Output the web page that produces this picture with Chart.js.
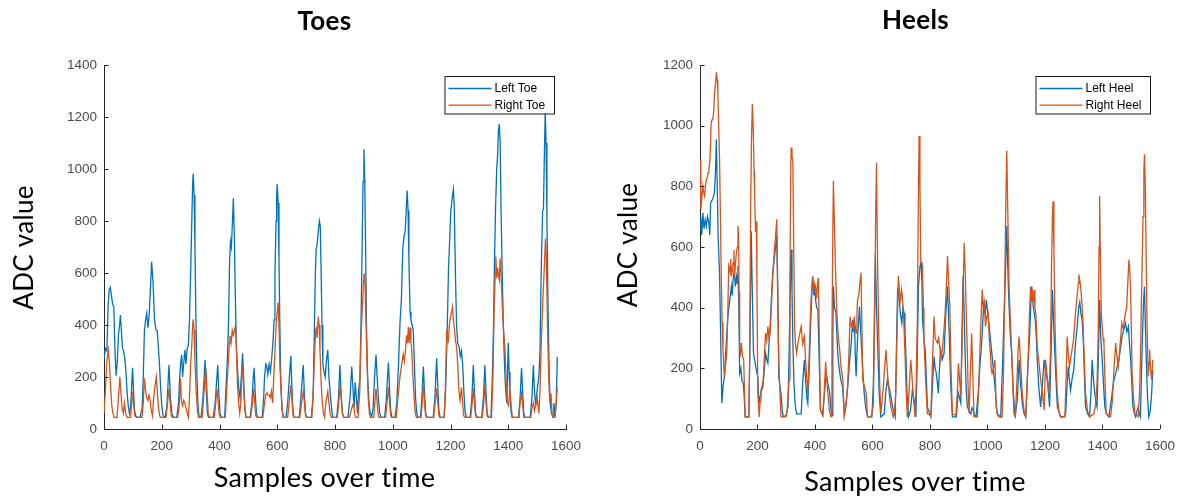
<!DOCTYPE html>
<html><head><meta charset="utf-8">
<script src="https://cdn.jsdelivr.net/npm/chart.js@4.4.0/dist/chart.umd.min.js"></script>
<style>
html,body{margin:0;padding:0;background:#fff;}
#wrap{position:relative;width:1184px;height:498px;overflow:hidden;background:#fff;}
canvas{position:absolute;top:0;}
#c1{left:0px}#c2{left:592px}
</style></head><body>
<div id="wrap"><canvas id="c1" width="592" height="498"></canvas><canvas id="c2" width="592" height="498"></canvas></div>
<script>
// ---- tick labels ----
const sampleTicks = [0,200,400,600,800,1000,1200,1400,1600];
const toeTicks = [0,200,400,600,800,1000,1200,1400];
const heelTicks = [0,200,400,600,800,1000,1200];

// ---- series: [sample index, ADC value] ----
const leftToe = [[0,270],[5,310],[10,300],[14,470],[18,537],[22,545],[26,510],[30,480],[34,470],[38,300],[42,205],[46,260],[50,360],[54,400],[57,438],[60,380],[64,310],[68,300],[72,270],[76,220],[80,140],[84,90],[88,60],[92,80],[96,170],[99,235],[102,150],[106,70],[110,50],[115,45],[125,45],[132,80],[136,200],[140,380],[144,420],[148,445],[152,390],[156,430],[160,520],[165,643],[170,560],[175,420],[180,381],[184,380],[188,320],[192,250],[196,160],[200,90],[205,50],[212,45],[218,90],[225,246],[230,120],[235,60],[240,45],[252,45],[258,100],[262,200],[266,260],[269,285],[272,200],[276,250],[280,304],[284,250],[288,310],[292,320],[296,420],[300,600],[304,800],[307,940],[309,983],[312,900],[315,700],[318,450],[322,200],[326,80],[330,45],[336,45],[342,110],[347,200],[350,265],[354,150],[358,60],[362,45],[378,45],[385,100],[391,200],[394,246],[398,130],[402,60],[406,45],[418,45],[422,150],[427,259],[431,400],[435,650],[438,720],[441,700],[445,800],[448,887],[451,760],[455,500],[459,300],[463,220],[467,150],[471,120],[476,210],[480,291],[484,180],[488,80],[492,45],[506,45],[512,100],[517,200],[520,235],[524,130],[528,60],[532,45],[548,45],[553,120],[556,200],[560,250],[563,246],[567,210],[572,250],[576,220],[580,260],[585,330],[589,420],[592,600],[596,800],[598,900],[600,941],[603,870],[606,650],[609,400],[612,200],[616,80],[620,45],[630,45],[636,100],[642,200],[647,281],[650,180],[654,80],[658,45],[676,45],[682,120],[687,200],[690,246],[694,130],[698,60],[702,45],[718,45],[724,120],[728,350],[732,600],[735,695],[738,710],[742,760],[746,800],[749,780],[752,600],[755,400],[758,250],[762,220],[766,200],[770,260],[775,304],[779,200],[783,140],[788,80],[792,45],[806,45],[812,120],[817,246],[821,140],[826,60],[830,45],[845,45],[852,120],[858,240],[862,160],[866,80],[870,180],[874,120],[878,60],[882,150],[886,190],[890,400],[894,700],[897,950],[900,1076],[903,960],[906,700],[909,400],[913,200],[918,100],[922,60],[927,50],[932,80],[937,200],[942,285],[946,200],[950,120],[955,60],[960,45],[972,45],[978,120],[983,220],[985,256],[989,150],[993,70],[997,45],[1008,45],[1014,100],[1020,250],[1025,406],[1030,500],[1035,700],[1039,740],[1043,760],[1047,850],[1050,917],[1053,840],[1056,650],[1060,450],[1063,419],[1067,400],[1071,380],[1075,250],[1079,120],[1083,60],[1088,45],[1096,45],[1101,120],[1106,240],[1110,140],[1114,60],[1118,45],[1140,45],[1146,120],[1152,272],[1156,160],[1160,70],[1164,45],[1178,45],[1183,150],[1188,350],[1193,611],[1198,750],[1201,840],[1204,868],[1207,900],[1210,922],[1213,860],[1217,600],[1221,400],[1225,330],[1230,317],[1234,280],[1238,300],[1242,250],[1246,150],[1250,70],[1255,45],[1268,45],[1274,120],[1279,246],[1283,140],[1287,60],[1291,45],[1308,45],[1314,120],[1319,246],[1323,140],[1327,60],[1331,45],[1340,45],[1345,200],[1349,400],[1352,624],[1356,850],[1360,1000],[1363,1050],[1366,1150],[1369,1173],[1372,1100],[1375,850],[1379,600],[1383,400],[1387,250],[1391,150],[1395,100],[1400,332],[1403,220],[1406,137],[1410,60],[1414,45],[1436,45],[1441,120],[1446,235],[1450,140],[1454,60],[1458,45],[1476,45],[1482,120],[1487,246],[1491,140],[1495,90],[1500,150],[1506,201],[1510,300],[1514,600],[1519,836],[1522,850],[1525,1050],[1528,1220],[1531,1100],[1534,800],[1538,450],[1542,200],[1546,90],[1550,60],[1555,45],[1558,100],[1562,50],[1566,100],[1570,278]];

const rightToe = [[0,60],[5,150],[10,260],[15,304],[19,250],[23,160],[27,90],[31,60],[35,45],[45,45],[50,120],[55,201],[59,130],[63,80],[67,60],[71,100],[75,60],[80,45],[92,45],[96,100],[99,144],[103,90],[107,50],[112,45],[132,45],[136,100],[140,195],[144,150],[148,120],[152,110],[156,130],[160,110],[164,70],[168,50],[172,120],[176,160],[181,201],[185,140],[189,80],[193,50],[197,45],[215,45],[220,100],[225,156],[229,100],[233,50],[237,45],[255,45],[260,80],[265,195],[268,110],[272,90],[276,110],[280,100],[284,80],[288,60],[292,45],[296,120],[300,250],[304,320],[307,400],[309,422],[312,380],[315,260],[319,150],[323,80],[327,45],[340,45],[345,120],[350,200],[353,233],[357,140],[361,60],[365,45],[382,45],[387,100],[391,156],[395,110],[399,55],[403,45],[420,45],[425,150],[430,250],[434,330],[436,358],[440,330],[444,380],[448,360],[452,380],[455,396],[458,330],[462,180],[466,100],[470,60],[474,100],[477,200],[480,240],[484,150],[488,70],[492,45],[508,45],[514,100],[518,156],[522,100],[526,50],[530,45],[550,45],[556,100],[560,130],[564,140],[568,130],[572,130],[576,120],[580,145],[584,100],[588,200],[592,300],[596,400],[600,450],[603,486],[606,400],[609,250],[613,150],[617,80],[621,45],[636,45],[641,100],[647,169],[651,110],[655,50],[660,45],[678,45],[684,100],[690,144],[694,100],[698,50],[702,45],[720,45],[725,150],[729,280],[733,380],[735,387],[738,350],[742,432],[745,400],[748,300],[752,180],[756,100],[760,60],[764,45],[768,100],[775,144],[779,100],[783,60],[787,45],[808,45],[813,100],[818,169],[822,110],[826,55],[830,45],[850,45],[858,80],[864,100],[868,60],[872,45],[880,45],[886,150],[890,350],[894,450],[898,550],[901,599],[904,560],[907,420],[911,250],[915,120],[919,60],[923,45],[934,45],[938,100],[942,156],[946,100],[950,50],[954,45],[975,45],[980,100],[985,160],[989,100],[993,50],[997,45],[1012,45],[1018,120],[1025,201],[1030,240],[1036,287],[1040,260],[1044,300],[1048,360],[1051,330],[1054,393],[1057,330],[1060,390],[1063,340],[1066,300],[1070,200],[1074,120],[1078,60],[1082,45],[1098,45],[1102,100],[1106,169],[1110,100],[1114,50],[1118,45],[1142,45],[1147,100],[1152,156],[1156,100],[1160,50],[1164,45],[1178,45],[1182,150],[1187,381],[1192,330],[1196,400],[1200,430],[1204,450],[1207,470],[1210,420],[1214,380],[1217,340],[1221,320],[1225,250],[1229,150],[1233,110],[1238,160],[1242,100],[1246,50],[1250,45],[1270,45],[1275,100],[1279,156],[1283,100],[1287,50],[1291,45],[1310,45],[1315,100],[1319,169],[1323,100],[1327,50],[1331,45],[1342,45],[1347,200],[1351,450],[1355,600],[1357,663],[1360,580],[1363,620],[1366,590],[1369,573],[1372,656],[1375,600],[1379,480],[1383,393],[1389,300],[1393,180],[1397,100],[1401,90],[1406,156],[1410,90],[1414,45],[1437,45],[1441,100],[1446,137],[1450,90],[1454,45],[1478,45],[1482,80],[1487,100],[1491,70],[1495,90],[1500,120],[1506,60],[1510,150],[1515,350],[1520,500],[1524,600],[1529,733],[1532,650],[1536,400],[1540,200],[1544,100],[1548,137],[1552,60],[1556,45],[1562,45],[1566,100],[1570,160]];

const leftHeel = [[0,658],[3,700],[6,640],[10,713],[14,660],[18,690],[22,669],[26,700],[31,680],[34,640],[37,746],[41,753],[45,760],[50,779],[54,850],[57,955],[60,800],[63,636],[68,515],[72,300],[76,85],[80,140],[85,173],[90,260],[97,371],[103,420],[109,470],[112,440],[115,493],[119,520],[123,470],[127,503],[130,480],[132,537],[135,400],[138,184],[142,200],[146,160],[150,152],[153,120],[157,40],[170,40],[174,300],[178,652],[182,450],[186,250],[190,228],[195,200],[201,173],[205,85],[210,110],[215,130],[219,140],[224,200],[228,250],[232,230],[236,217],[240,280],[244,338],[248,420],[253,513],[258,560],[263,600],[267,636],[271,400],[274,173],[278,140],[282,118],[286,60],[290,40],[300,45],[306,73],[311,300],[315,520],[317,592],[320,450],[323,283],[327,150],[331,80],[336,50],[352,50],[357,150],[363,228],[368,150],[372,100],[375,85],[380,200],[385,350],[389,450],[392,503],[396,440],[399,470],[402,426],[406,400],[410,393],[414,250],[419,62],[427,45],[433,120],[439,184],[445,150],[451,118],[456,60],[460,45],[462,300],[464,470],[468,400],[473,382],[479,250],[484,200],[490,160],[496,140],[502,45],[508,80],[514,140],[520,220],[526,283],[531,360],[534,320],[537,369],[540,250],[543,173],[548,300],[552,360],[555,404],[560,300],[566,195],[571,120],[576,73],[583,40],[598,40],[603,150],[607,400],[610,575],[614,400],[618,283],[623,120],[629,40],[641,50],[646,120],[652,162],[656,140],[660,129],[665,100],[670,73],[679,40],[683,250],[687,448],[690,470],[693,426],[697,380],[702,349],[706,400],[710,382],[713,320],[716,250],[720,120],[725,40],[732,60],[739,129],[742,110],[745,96],[751,40],[755,200],[760,470],[765,536],[769,548],[772,480],[774,360],[779,300],[784,250],[788,150],[791,73],[803,40],[809,150],[814,239],[818,200],[822,184],[826,150],[829,118],[833,200],[837,261],[843,230],[849,250],[855,380],[861,470],[866,338],[872,150],[878,40],[892,40],[896,100],[899,118],[903,100],[907,85],[911,300],[915,504],[919,380],[922,250],[926,130],[930,73],[936,60],[942,50],[946,70],[950,62],[955,45],[960,40],[968,120],[973,200],[977,250],[982,320],[985,380],[988,404],[992,380],[996,426],[1001,380],[1006,338],[1010,300],[1015,250],[1020,200],[1026,140],[1030,90],[1034,50],[1046,40],[1052,200],[1057,360],[1062,500],[1067,669],[1071,520],[1075,404],[1080,300],[1084,250],[1090,120],[1096,40],[1104,100],[1110,228],[1115,150],[1121,85],[1127,50],[1133,40],[1139,173],[1143,250],[1147,316],[1151,420],[1154,470],[1157,430],[1159,404],[1163,380],[1166,360],[1170,300],[1173,228],[1179,130],[1185,73],[1191,150],[1197,228],[1202,190],[1208,162],[1212,120],[1216,73],[1221,250],[1226,459],[1230,350],[1235,228],[1239,150],[1243,73],[1254,40],[1266,40],[1272,50],[1277,150],[1281,206],[1285,160],[1289,129],[1295,170],[1300,195],[1306,280],[1312,338],[1317,400],[1321,418],[1325,380],[1329,360],[1333,300],[1337,180],[1341,73],[1348,50],[1355,40],[1360,120],[1364,228],[1368,170],[1373,118],[1377,90],[1381,73],[1386,250],[1390,426],[1394,300],[1399,228],[1404,140],[1408,73],[1414,50],[1422,40],[1430,90],[1435,130],[1440,162],[1445,180],[1450,200],[1457,228],[1463,270],[1467,300],[1471,316],[1475,330],[1480,349],[1485,320],[1490,338],[1494,280],[1498,228],[1502,150],[1506,73],[1511,50],[1515,40],[1520,60],[1524,73],[1528,50],[1532,40],[1536,200],[1540,338],[1543,420],[1546,470],[1549,350],[1553,206],[1557,100],[1561,40],[1566,60],[1571,118],[1575,195]];

const rightHeel = [[0,889],[3,724],[6,760],[10,801],[13,780],[16,768],[19,800],[22,823],[25,830],[28,845],[31,860],[34,878],[37,950],[39,1010],[42,1020],[45,1024],[48,1050],[50,1099],[54,1140],[57,1176],[60,1150],[62,1115],[65,1000],[68,889],[71,700],[74,500],[77,350],[80,261],[83,200],[85,173],[89,210],[93,250],[97,400],[100,537],[104,520],[107,560],[109,503],[112,520],[115,548],[118,590],[120,498],[123,540],[127,586],[130,600],[132,669],[134,640],[136,450],[138,272],[141,250],[144,283],[148,240],[152,228],[155,120],[157,40],[170,40],[173,250],[176,700],[179,950],[182,1071],[185,1000],[188,850],[190,779],[193,650],[196,685],[198,500],[201,118],[206,40],[209,90],[212,129],[216,140],[220,162],[224,240],[228,316],[232,290],[236,338],[240,300],[244,316],[248,400],[253,503],[258,580],[263,640],[267,691],[270,500],[274,228],[278,120],[282,40],[299,40],[303,60],[310,162],[313,500],[316,880],[317,928],[320,900],[323,878],[326,600],[329,338],[332,280],[336,250],[340,280],[344,300],[348,320],[352,338],[357,280],[363,305],[369,200],[375,118],[380,250],[385,400],[389,470],[392,503],[395,450],[399,480],[402,470],[406,430],[409,480],[412,498],[415,300],[419,62],[427,45],[432,120],[437,222],[441,160],[445,118],[450,60],[456,40],[459,300],[462,650],[464,818],[467,700],[471,537],[476,382],[481,300],[486,261],[491,200],[497,162],[502,45],[508,80],[514,151],[518,250],[522,371],[526,340],[530,349],[534,330],[537,360],[540,340],[543,316],[546,380],[548,426],[552,440],[556,480],[560,515],[563,350],[566,162],[572,140],[578,118],[583,40],[595,40],[600,60],[603,85],[608,400],[611,700],[614,878],[617,600],[621,360],[625,150],[629,50],[633,90],[637,129],[642,200],[647,261],[651,200],[656,140],[660,100],[664,73],[672,40],[677,60],[681,118],[685,300],[690,504],[694,450],[698,426],[701,460],[704,437],[708,380],[713,250],[717,130],[721,40],[727,120],[733,228],[737,180],[741,118],[748,40],[752,150],[756,360],[759,700],[762,966],[765,800],[768,550],[771,548],[774,536],[777,400],[779,294],[783,200],[787,120],[791,50],[803,45],[808,200],[814,371],[818,300],[822,290],[826,283],[830,300],[834,272],[838,230],[843,261],[848,320],[852,371],[856,450],[861,570],[865,480],[869,404],[873,200],[878,50],[890,45],[895,120],[899,217],[903,160],[907,107],[911,250],[915,450],[919,614],[923,500],[927,350],[930,250],[933,120],[936,50],[941,200],[945,316],[949,180],[953,40],[965,40],[970,150],[975,300],[979,400],[982,460],[985,400],[989,420],[993,338],[997,370],[1002,382],[1006,300],[1010,250],[1013,200],[1016,184],[1021,200],[1026,228],[1030,73],[1034,50],[1039,40],[1051,40],[1056,200],[1060,470],[1063,700],[1067,917],[1070,750],[1075,470],[1080,350],[1084,261],[1088,150],[1092,50],[1097,40],[1102,150],[1106,250],[1110,305],[1115,220],[1121,118],[1127,60],[1133,40],[1138,150],[1142,250],[1146,380],[1150,470],[1153,420],[1156,448],[1159,420],[1162,459],[1165,400],[1168,382],[1171,320],[1173,272],[1179,220],[1185,162],[1191,120],[1197,62],[1202,228],[1208,170],[1214,118],[1219,250],[1223,550],[1226,700],[1228,751],[1231,600],[1235,338],[1239,200],[1243,118],[1248,60],[1254,40],[1269,40],[1273,150],[1277,305],[1281,250],[1285,206],[1289,230],[1294,261],[1300,300],[1306,382],[1312,440],[1316,480],[1318,509],[1321,490],[1324,470],[1328,420],[1332,360],[1336,250],[1341,118],[1348,60],[1355,40],[1370,50],[1376,80],[1381,150],[1385,305],[1388,600],[1390,768],[1393,550],[1396,380],[1399,338],[1402,300],[1405,283],[1409,150],[1413,50],[1428,40],[1434,90],[1440,200],[1446,283],[1450,240],[1455,206],[1460,260],[1467,349],[1472,330],[1476,360],[1480,382],[1484,400],[1488,480],[1492,559],[1495,520],[1498,448],[1501,300],[1503,184],[1508,100],[1513,50],[1524,40],[1529,120],[1532,228],[1535,400],[1538,537],[1541,700],[1544,850],[1546,906],[1549,800],[1552,559],[1555,350],[1559,173],[1562,220],[1564,261],[1567,200],[1571,162],[1575,228]];

const BLUE = '#0072BD', ORANGE = '#D95319', AXIS = '#262626', TICKTXT = '#4a4a4a';
const TICKFONT = '"Liberation Sans", Arial, sans-serif';

const decorPlugin = {
  id: 'decor',
  afterDraw(chart, args, o) {
    const ctx = chart.ctx, a = chart.chartArea, xs = chart.scales.x, ys = chart.scales.y;
    ctx.save();
    // inward tick marks
    ctx.strokeStyle = AXIS; ctx.lineWidth = 1;
    ctx.beginPath();
    xs.ticks.forEach(t => { const px = Math.round(xs.getPixelForValue(t.value)) + 0.5; ctx.moveTo(px, a.bottom); ctx.lineTo(px, a.bottom - 4.5); });
    ys.ticks.forEach(t => { const py = Math.round(ys.getPixelForValue(t.value)) + 0.5; ctx.moveTo(a.left, py); ctx.lineTo(a.left + 4.5, py); });
    ctx.stroke();
    // no ligatures (letter spacing disables them in canvas text)
    if ('letterSpacing' in ctx) ctx.letterSpacing = '0.3px';
    ctx.fillStyle = '#000';
    ctx.textAlign = 'center'; ctx.textBaseline = 'alphabetic';
    ctx.font = 'bold 26px Lato';
    ctx.fillText(o.title, o.titleX, o.titleY);
    ctx.font = '27px Lato';
    ctx.fillText(o.xTitle, o.xTitleX, o.xTitleY);
    ctx.save();
    ctx.translate(o.yTitleX, o.yTitleY); ctx.rotate(-Math.PI / 2);
    ctx.font = '26px Lato';
    ctx.fillText(o.yTitle, 0, 0);
    ctx.restore();
    if ('letterSpacing' in ctx) ctx.letterSpacing = '0px';
    // legend box
    const L = o.legend;
    ctx.fillStyle = '#fff';
    ctx.fillRect(L.x, L.y, L.w, L.h);
    ctx.strokeStyle = '#1a1a1a'; ctx.lineWidth = 1;
    ctx.strokeRect(L.x + 0.5, L.y + 0.5, L.w, L.h);
    chart.data.datasets.forEach((ds, i) => {
      const yy = L.y + L.row0 + i * L.rowGap;
      ctx.strokeStyle = ds.borderColor; ctx.lineWidth = 1.3;
      ctx.beginPath(); ctx.moveTo(L.x + 4, yy); ctx.lineTo(L.x + 47, yy); ctx.stroke();
      ctx.fillStyle = '#000'; ctx.font = '12px ' + TICKFONT;
      ctx.textAlign = 'left'; ctx.textBaseline = 'middle';
      ctx.fillText(ds.label, L.x + 50, yy + 0.5);
    });
    ctx.restore();
  }
};

function makeChart(id, c) {
  return new Chart(document.getElementById(id), {
    type: 'line',
    data: { datasets: [
      { label: c.labels[0], data: c.blue.map(p => ({x: p[0], y: p[1]})), borderColor: BLUE, borderWidth: 1.3, pointRadius: 0, tension: 0, order: 1, fill: false },
      { label: c.labels[1], data: c.orange.map(p => ({x: p[0], y: p[1]})), borderColor: ORANGE, borderWidth: 1.3, pointRadius: 0, tension: 0, order: 0, fill: false }
    ]},
    options: {
      responsive: false, animation: false, devicePixelRatio: 1,
      events: [],
      layout: { padding: { top: 65, left: 0, right: c.padRight, bottom: 0 } },
      plugins: { legend: { display: false }, tooltip: { enabled: false }, title: { display: false }, decor: c.decor },
      scales: {
        x: {
          type: 'linear', min: 0, max: 1600,
          grid: { display: false, drawTicks: false },
          border: { display: true, color: AXIS, width: 1 },
          ticks: { color: TICKTXT, font: { family: TICKFONT, size: 13.5 }, padding: 9, maxRotation: 0, autoSkip: false, callback: v => String(v) },
          afterBuildTicks: s => { s.ticks = sampleTicks.map(v => ({ value: v })); },
          afterFit: s => { s.height = 69; }
        },
        y: {
          type: 'linear', min: 0, max: c.yMax,
          grid: { display: false, drawTicks: false },
          border: { display: true, color: AXIS, width: 1 },
          ticks: { color: TICKTXT, font: { family: TICKFONT, size: 13.5 }, padding: 7, autoSkip: false, callback: v => String(v) },
          afterBuildTicks: s => { s.ticks = c.yTicks.map(v => ({ value: v })); },
          afterFit: s => { s.width = c.yWidth; }
        }
      }
    },
    plugins: [decorPlugin]
  });
}

makeChart('c1', {
  labels: ['Left Toe', 'Right Toe'], blue: leftToe, orange: rightToe,
  yMax: 1400, yTicks: toeTicks, yWidth: 104, padRight: 26,
  decor: { title: 'Toes', titleX: 324.5, titleY: 30, xTitle: 'Samples over time', xTitleX: 324.5, xTitleY: 487,
           yTitle: 'ADC value', yTitleX: 33, yTitleY: 247.5,
           legend: { x: 444.5, y: 76, w: 109.5, h: 37.5, row0: 12.5, rowGap: 16.7 } }
});
makeChart('c2', {
  labels: ['Left Heel', 'Right Heel'], blue: leftHeel, orange: rightHeel,
  yMax: 1200, yTicks: heelTicks, yWidth: 108, padRight: 23,
  decor: { title: 'Heels', titleX: 323.5, titleY: 28.5, xTitle: 'Samples over time', xTitleX: 323, xTitleY: 490.5,
           yTitle: 'ADC value', yTitleX: 45, yTitleY: 245,
           legend: { x: 443.5, y: 76, w: 114.5, h: 37.5, row0: 12.5, rowGap: 16.7 } }
});
</script>
</body></html>
